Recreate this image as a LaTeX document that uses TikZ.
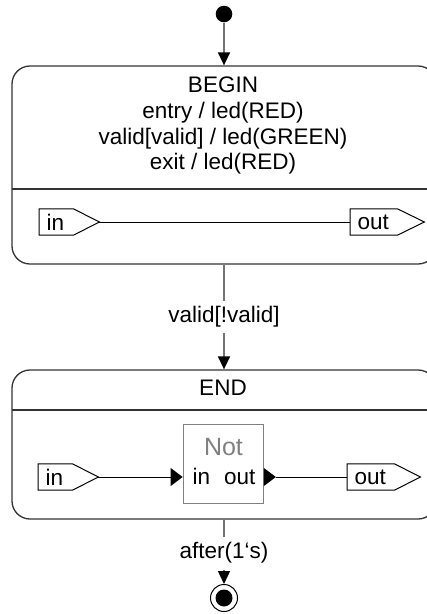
\documentclass[tikz,border=0pt]{standalone}
\usepackage{fontspec}
\setmainfont{Liberation Sans}
\usetikzlibrary{arrows.meta}
\definecolor{framecol}{RGB}{51,51,51}
\definecolor{conncol}{RGB}{115,115,115}
\definecolor{partcol}{RGB}{128,128,128}
\newcommand\labelfont{\fontsize{22.5}{26}\selectfont}
\tikzset{
  statebox/.style={draw=framecol, line width=1.3pt, rounded corners=18pt,
    minimum width=424pt, inner sep=0pt},
  lbltext/.style={font=\labelfont, inner sep=0pt, anchor=base},
  portbox/.style={font=\labelfont, anchor=west, inner xsep=7.5pt,
    inner ysep=0pt, minimum height=26pt, align=left},
  pentagon/.style={draw=black, line width=1pt},
  conn/.style={draw=conncol, line width=1.5pt,
    -{Triangle[length=13pt,width=12pt,color=black]}},
  wire/.style={draw=black, line width=1pt},
  guard/.style={font=\labelfont, fill=white,
    inner xsep=2pt, inner ysep=6pt},
  partbox/.style={draw=partcol, line width=1.2pt, minimum width=80pt,
    minimum height=79pt, inner sep=0pt},
}
% port outline: rectangle body with a pointed tip on the right
\newcommand\portoutline[1]{%
  \draw[pentagon] (#1.north west) -- (#1.north east) -- (#1-tip)
    -- (#1.south east) -- (#1.south west) -- cycle;}
\begin{document}
\begin{tikzpicture}[x=1pt,y=-1pt]
\useasboundingbox (0,0) rectangle (427,614);
\clip (0,0) rectangle (427,614);

% ---------- initial pseudo state ----------
\node[circle, fill=black, minimum size=16.6pt, inner sep=0pt] (init) at (224,14) {};

% ---------- BEGIN state ----------
\node[statebox, minimum height=198pt] (begin) at (224,165) {};
\draw[draw=framecol, line width=1.3pt] (12,189) -- (436,189);
\node[lbltext] (bname)  at (223,92.7)  {BEGIN};
\node[lbltext] (bentry) at (223,118.4) {entry / led(RED)};
\node[lbltext] (bvalid) at (223,144)   {valid[valid] / led(GREEN)};
\node[lbltext] (bexit)  at (223,169.5) {exit / led(RED)};

\node[portbox, text width=19pt] (bin) at (39,222) {in};
\coordinate (bin-tip) at ([xshift=26pt]bin.east);
\portoutline{bin}
\node[portbox, text width=32pt] (bout) at (350,222) {out};
\coordinate (bout-tip) at ([xshift=27pt]bout.east);
\portoutline{bout}
\draw[wire] (bin-tip) -- (bout.west);

% ---------- END state ----------
\node[statebox, minimum height=149pt] (end) at (224,444.5) {};
\draw[draw=framecol, line width=1.3pt] (12,410) -- (436,410);
\node[lbltext] (ename) at (223,395.5) {END};

\node[partbox] (notbox) at (223.3,463.7) {};
\node[lbltext, text=partcol, font=\fontsize{25}{30}\selectfont] (nottitle) at (223.5,455) {Not};
\node[lbltext, anchor=base west] (notin) at (192.5,484) {in};
\node[lbltext, anchor=base east] (notout) at (255.5,484) {out};

\node[portbox, text width=19pt] (ein) at (38,477) {in};
\coordinate (ein-tip) at ([xshift=26pt]ein.east);
\portoutline{ein}
\node[portbox, text width=32pt] (eout) at (347,477) {out};
\coordinate (eout-tip) at ([xshift=26pt]eout.east);
\portoutline{eout}

% port markers of the Not part, on the wire level
\coordinate (notbox-iw) at (notbox.west |- ein.center);
\coordinate (notbox-oe) at (notbox.east |- eout.center);
\fill (notbox-iw) -- ++(-12,-9) -- ++(0,18) -- cycle;
\fill (notbox-oe) -- ++(0,-9) -- ++(12,9) -- ++(-12,9) -- cycle;
\coordinate (notbox-otip) at ([xshift=12pt]notbox-oe);
\draw[wire] (ein-tip) -- ([xshift=-11pt]notbox-iw);
\draw[wire] (notbox-otip) -- (eout.west);

% ---------- final state ----------
\node[circle, draw=black, line width=1pt, minimum size=27pt, inner sep=0pt] (final) at (224,598) {};
\node[circle, fill=black, minimum size=17pt, inner sep=0pt] (finaldot) at (final.center) {};

% ---------- transitions ----------
\draw[conn] (init) -- (begin);
\draw[conn] (begin) -- node[guard] (g1) {valid[!valid]} (end);
\draw[conn] (end) -- node[guard, pos=0.52] (g2) {after(1‘s)} (final);
\end{tikzpicture}
\end{document}
